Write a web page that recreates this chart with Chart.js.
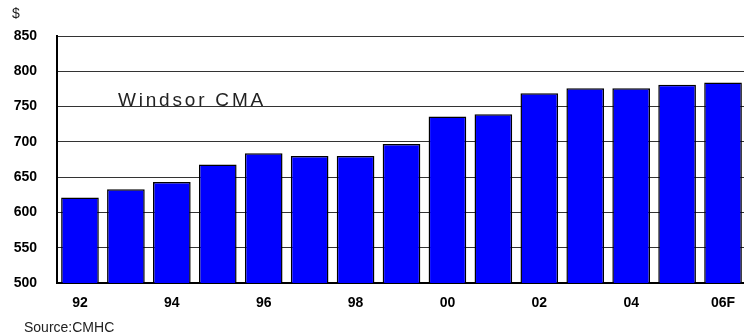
<!DOCTYPE html>
<html>
<head>
<meta charset="utf-8">
<script src="https://cdn.jsdelivr.net/npm/chart.js@4"></script>
<style>
    html, body { margin: 0; padding: 0; background: #fff; overflow: hidden; }
    #wrap { width: 750px; height: 336px; }
</style>
</head>
<body>
<div id="wrap"><canvas id="rentChart"></canvas></div>
<script>
const years = ["92", "93", "94", "95", "96", "97", "98", "99", "00", "01", "02", "03", "04", "05", "06F"];
const avgRent = [621, 633, 643, 668, 684, 680, 680, 697, 736, 739, 769, 776, 776, 781, 784];
const shownYears = ["92", "94", "96", "98", "00", "02", "04", "06F"];
const yTicks = [500, 550, 600, 650, 700, 750, 800, 850];

// extra text: unit label, area name, source note
const notesPlugin = {
    id: "notes",
    afterDraw(chart) {
        const ctx = chart.ctx;
        ctx.save();
        ctx.fillStyle = "#222";
        ctx.textBaseline = "alphabetic";
        ctx.font = "14px 'Liberation Sans', Arial, sans-serif";
        ctx.fillText("$", 12, 18);
        ctx.fillText("Source:CMHC", 24, 332);

        ctx.font = "19px 'Liberation Sans', Arial, sans-serif";
        ctx.letterSpacing = "2.8px";
        ctx.fillText("Windsor CMA", 118, 106);
        ctx.restore();
    }
};

new Chart(document.getElementById("rentChart"), {
    type: "bar",
    data: {
        labels: years,
        datasets: [{
            data: avgRent,
            backgroundColor: "#0000ff",
            borderColor: "#000",
            borderWidth: 1.5,
            categoryPercentage: 0.82,
            barPercentage: 1
        }]
    },
    options: {
        responsive: true,
        maintainAspectRatio: false,
        animation: false,
        layout: { padding: { top: 36, right: 4, left: 0, bottom: 0 } },
        plugins: {
            legend: { display: false },
            tooltip: { enabled: false }
        },
        scales: {
            x: {
                grid: { display: false },
                border: { color: "#000", width: 2 },
                afterFit(scale) { scale.height = 53; },
                ticks: {
                    autoSkip: false,
                    maxRotation: 0,
                    padding: 4,
                    color: "#000",
                    font: { family: "'Liberation Sans', Arial, sans-serif", size: 14, weight: "bold" },
                    callback(value, index) {
                        const lab = years[index];
                        return shownYears.includes(lab) ? lab : "";
                    }
                }
            },
            y: {
                min: yTicks[0],
                max: yTicks[yTicks.length - 1],
                afterFit(scale) { scale.width = 57; },
                afterBuildTicks(scale) {
                    scale.ticks = yTicks.map(v => ({ value: v }));
                },
                grid: { color: "#333", lineWidth: 1, drawTicks: false },
                border: { color: "#000", width: 2 },
                ticks: {
                    padding: 20,
                    color: "#000",
                    font: { family: "'Liberation Sans', Arial, sans-serif", size: 14, weight: "bold" }
                }
            }
        }
    },
    plugins: [notesPlugin]
});
</script>
</body>
</html>
